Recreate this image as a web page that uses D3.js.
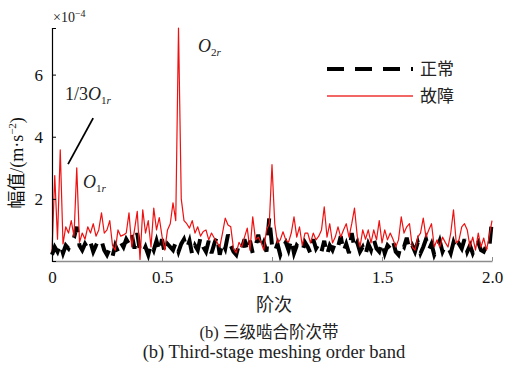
<!DOCTYPE html>
<html>
<head>
<meta charset="utf-8">
<script src="https://cdn.jsdelivr.net/npm/d3@7"></script>
<style>
  html, body { margin: 0; padding: 0; background: #fff; }
  svg { display: block; }
</style>
</head>
<body>
<svg id="chart" width="505" height="366"></svg>
<script>
// ---- data (amplitude in ×1e-4 m/s², orders sampled every 0.0125) ----
const orderStep = 0.0125;
const faultValues = [
  0.3, 2.75, 0.7, 3.58, 0.55, 1.1, 0.9, 1.3, 0.8, 3.0,
  0.6, 0.9, 0.7, 1.1, 0.9, 1.2, 0.8, 1.0, 1.55, 0.9,
  1.0, 1.3, 0.5, 0.35, 1.0, 0.8, 0.84, 0.9, 1.55, 0.45,
  1.0, 1.6, 0.05, 1.65, 0.9, 1.3, 0.45, 1.7, 1.0, 1.4,
  0.8, 0.35, 1.0, 1.2, 1.87, 1.3, 7.5, 2.0, 1.3, 1.2,
  1.06, 1.3, 0.9, 1.1, 0.8, 0.95, 1.0, 0.68, 0.9, 0.74,
  0.6, 0.45, 0.9, 1.38, 1.16, 1.1, 0.4, 0.26, 0.6, 0.45,
  0.77, 1.06, 0.35, 1.42, 0.68, 0.77, 0.6, 0.35, 1.0, 1.2,
  3.1, 1.2, 0.58, 0.68, 0.94, 0.68, 0.6, 0.9, 1.42, 0.77,
  1.1, 0.5, 0.9, 0.9, 0.58, 0.9, 0.68, 0.8, 1.0, 1.74,
  0.77, 1.2, 0.58, 0.77, 1.1, 0.77, 1.0, 1.2, 0.77, 1.2,
  1.7, 0.8, 0.45, 1.0, 0.7, 1.0, 0.58, 1.0, 0.68, 1.3,
  0.58, 1.0, 0.68, 0.9, 0.7, 0.45, 0.68, 1.42, 0.9, 1.1,
  1.2, 0.45, 0.35, 0.77, 0.9, 1.38, 0.77, 1.0, 1.2, 0.45,
  0.68, 0.45, 0.77, 0.6, 0.45, 0.9, 1.65, 0.58, 0.68, 1.1,
  1.2, 1.0, 0.45, 0.77, 0.35, 0.9, 0.45, 0.74, 0.35, 0.8,
  1.3
];
const normalValues = [
  0.2, 0.45, 0.3, 0.55, 0.25, 0.5, 0.4, 0.6, 0.75, 1.1,
  0.5, 0.35, 0.55, 0.4, 0.6, 0.3, 0.5, 0.45, 0.65, 0.35,
  0.2, 0.4, 0.15, 0.5, 0.3, 0.6, 0.45, 0.7, 0.55, 0.85,
  0.4, 0.9, 0.3, 0.25, 0.45, 0.2, 0.55, 0.35, 0.65, 0.3,
  0.7, 0.25, 0.55, 0.45, 0.35, 0.6, 0.3, 0.55, 0.7, 0.4,
  0.65, 0.2, 0.5, 0.35, 0.75, 0.45, 0.3, 0.65, 0.25, 0.55,
  0.8, 0.2, 0.6, 0.4, 0.85, 0.5, 0.3, 0.2, 0.55, 0.4,
  0.7, 0.3, 0.65, 0.25, 0.45, 0.85, 0.4, 0.6, 0.3, 1.4,
  0.5, 0.3, 0.55, 0.2, 0.45, 0.6, 0.35, 0.7, 0.25, 0.5,
  0.4, 0.3, 0.6, 0.45, 0.25, 0.7, 0.4, 0.55, 0.3, 0.65,
  0.2, 0.5, 0.35, 0.6, 0.45, 0.8, 0.3, 0.55, 0.25, 0.9,
  0.4, 0.6, 0.3, 0.45, 0.2, 0.55, 0.35, 0.7, 0.4, 0.3,
  0.6, 0.25, 0.5, 0.4, 0.65, 0.3, 0.2, 0.55, 0.45, 0.75,
  0.35, 0.5, 0.3, 0.6, 0.25, 0.45, 0.7, 0.35, 0.55, 0.2,
  0.4, 0.65, 0.3, 0.5, 0.45, 0.25, 0.6, 0.35, 0.55, 0.4,
  0.7, 0.3, 0.5, 0.25, 0.45, 0.6, 0.35, 0.3, 0.5, 0.4,
  1.35
];
const xTicks = [0, 0.5, 1.0, 1.5, 2.0];
const xTickLabels = ["0", "0.5", "1.0", "1.5", "2.0"];
const yTicks = [2, 4, 6];
const legendLabels = ["正常", "故障"];

// ---- drawing ----
const svg = d3.select("#chart");
svg.append("rect").attr("width", 505).attr("height", 366).attr("fill", "#fff");

const serif = "'Liberation Serif', 'Times New Roman', serif";
const cjk = "'Noto Sans CJK SC', sans-serif";

const x = d3.scaleLinear().domain([0, 2]).range([52, 492]);
const y = d3.scaleLinear().domain([0, 7.5]).range([261, 28]);

const line = d3.line()
  .x((d, i) => x(i * orderStep))
  .y(d => y(d));

// normal (black dashed, thick)
svg.append("path")
  .datum(normalValues)
  .attr("d", line)
  .attr("fill", "none")
  .attr("stroke", "#000")
  .attr("stroke-width", 4)
  .attr("stroke-dasharray", "17,11")
  .attr("stroke-linejoin", "miter");

// fault (red solid)
svg.append("path")
  .datum(faultValues)
  .attr("d", line)
  .attr("fill", "none")
  .attr("stroke", "#ee1111")
  .attr("stroke-width", 1.2)
  .attr("stroke-linejoin", "round");

// x axis
const xAxis = d3.axisBottom(x)
  .tickValues(xTicks)
  .tickFormat((d, i) => xTickLabels[i])
  .tickSizeInner(-4)
  .tickSizeOuter(0)
  .tickPadding(10);
const gx = svg.append("g").attr("transform", "translate(0,261)").call(xAxis);
gx.select(".domain").attr("stroke", "#8c8c8c").attr("stroke-width", 1.5);
gx.selectAll(".tick line").attr("stroke", "#8c8c8c").attr("stroke-width", 1);
gx.selectAll(".tick text")
  .attr("font-family", serif).attr("font-size", 17).attr("fill", "#111");

// y axis
const yAxis = d3.axisLeft(y)
  .tickValues(yTicks)
  .tickSizeInner(-4)
  .tickSizeOuter(-4)
  .tickPadding(9);
const gy = svg.append("g").attr("transform", "translate(52,0)").call(yAxis);
gy.select(".domain").attr("stroke", "#000").attr("stroke-width", 1.2);
gy.selectAll(".tick line").attr("stroke", "#000");
gy.selectAll(".tick text")
  .attr("font-family", serif).attr("font-size", 17).attr("fill", "#111");

// exponent
const ex = svg.append("text").attr("x", 53).attr("y", 22)
  .attr("font-family", serif).attr("font-size", 14).attr("fill", "#222");
ex.append("tspan").text("×10");
ex.append("tspan").attr("dy", -5).attr("font-size", 10).text("−4");

// y label
const yl = svg.append("text")
  .attr("transform", "translate(23,163) rotate(-90)")
  .attr("text-anchor", "middle")
  .attr("font-size", 18).attr("fill", "#111");
yl.append("tspan").attr("font-family", cjk).text("幅值");
yl.append("tspan").attr("font-family", serif).text("/(m·s");
yl.append("tspan").attr("font-family", serif).attr("font-size", 11).attr("dy", -7).text("−2");
yl.append("tspan").attr("font-family", serif).attr("dy", 7).text(")");

// annotations
function orderLabel(px, py, prefix, sub, size) {
  const t = svg.append("text").attr("x", px).attr("y", py)
    .attr("font-family", serif).attr("font-size", size).attr("fill", "#222");
  if (prefix) t.append("tspan").text(prefix);
  t.append("tspan").attr("font-style", "italic").text("O");
  t.append("tspan").attr("dy", 4).attr("font-size", size * 0.62).text(sub[0]);
  t.append("tspan").attr("font-size", size * 0.62).attr("font-style", "italic").text(sub[1]);
}
orderLabel(198, 52, null, "2r", 18);
orderLabel(65, 100, "1/3", "1r", 18);
orderLabel(83, 188, null, "1r", 18);
svg.append("line")
  .attr("x1", x(0.187)).attr("y1", y(4.6))
  .attr("x2", x(0.073)).attr("y2", y(3.12))
  .attr("stroke", "#000").attr("stroke-width", 1.8);

// legend
const lg = svg.append("g");
lg.append("line").attr("x1", 327).attr("x2", 413).attr("y1", 69).attr("y2", 69)
  .attr("stroke", "#000").attr("stroke-width", 4).attr("stroke-dasharray", "17,11");
lg.append("line").attr("x1", 327).attr("x2", 413).attr("y1", 96).attr("y2", 96)
  .attr("stroke", "#ee3333").attr("stroke-width", 1.3);
legendLabels.forEach((lab, i) => {
  lg.append("text").attr("x", 420).attr("y", 69 + i * 27)
    .attr("dy", "0.36em")
    .attr("font-family", cjk).attr("font-size", 17).attr("fill", "#222").text(lab);
});

// axis title & captions
svg.append("text").attr("x", 274).attr("y", 311).attr("text-anchor", "middle")
  .attr("font-family", cjk).attr("font-size", 18).attr("fill", "#222").text("阶次");
const c1 = svg.append("text").attr("x", 269).attr("y", 338).attr("text-anchor", "middle")
  .attr("font-size", 16.5).attr("fill", "#222");
c1.append("tspan").attr("font-family", serif).text("(b) ");
c1.append("tspan").attr("font-family", cjk).text("三级啮合阶次带");
svg.append("text").attr("x", 274).attr("y", 358).attr("text-anchor", "middle")
  .attr("font-family", serif).attr("font-size", 18.5).attr("fill", "#222")
  .text("(b) Third-stage meshing order band");
</script>
</body>
</html>
